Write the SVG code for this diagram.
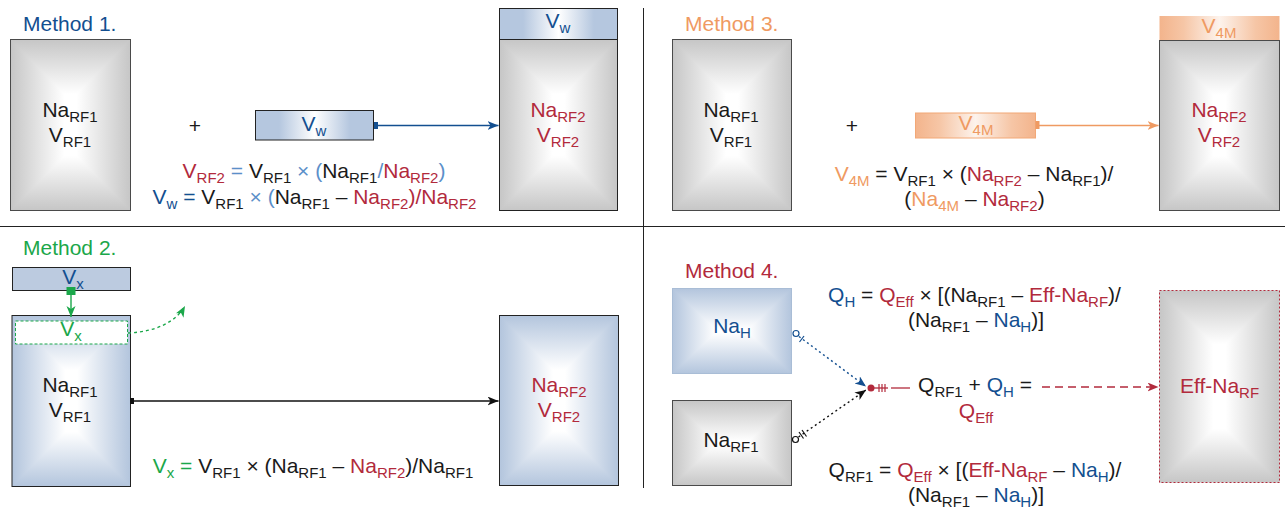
<svg xmlns="http://www.w3.org/2000/svg" width="1285" height="512" viewBox="0 0 1285 512">
<style>
.t{font-family:"Liberation Sans",Arial,Helvetica,sans-serif;font-size:21px;fill:#1a1a1a}
.s{font-size:15px;baseline-shift:-5px}
.b{fill:#134f90}.r{fill:#b22a3c}.g{fill:#1ba74a}.o{fill:#ef9a62}.lb{fill:#5b8fc9}.k{fill:#1a1a1a}
.dk{mix-blend-mode:darken}
.iso{isolation:isolate}
.bx{fill:none;stroke:#4a4a4a;stroke-width:1}
.bxk{fill:none;stroke:#222;stroke-width:1}
</style>
<defs>
<linearGradient id="gyH" x1="0" y1="0" x2="1" y2="0"><stop offset="0" stop-color="#c6c6c6"/><stop offset="0.45" stop-color="#fff"/><stop offset="0.55" stop-color="#fff"/><stop offset="1" stop-color="#c6c6c6"/></linearGradient>
<linearGradient id="gyV171" x1="0" y1="0" x2="0" y2="1"><stop offset="0" stop-color="#c6c6c6"/><stop offset="0.32" stop-color="#fff"/><stop offset="0.68" stop-color="#fff"/><stop offset="1" stop-color="#c6c6c6"/></linearGradient>
<linearGradient id="gyV85" x1="0" y1="0" x2="0" y2="1"><stop offset="0" stop-color="#c6c6c6"/><stop offset="0.48" stop-color="#fff"/><stop offset="0.52" stop-color="#fff"/><stop offset="1" stop-color="#c6c6c6"/></linearGradient>
<linearGradient id="gyH85" x1="0" y1="0" x2="1" y2="0"><stop offset="0" stop-color="#c6c6c6"/><stop offset="0.36" stop-color="#fff"/><stop offset="0.64" stop-color="#fff"/><stop offset="1" stop-color="#c6c6c6"/></linearGradient>
<linearGradient id="gyV192" x1="0" y1="0" x2="0" y2="1"><stop offset="0" stop-color="#c6c6c6"/><stop offset="0.28" stop-color="#fff"/><stop offset="0.72" stop-color="#fff"/><stop offset="1" stop-color="#c6c6c6"/></linearGradient>
<linearGradient id="blH" x1="0" y1="0" x2="1" y2="0"><stop offset="0" stop-color="#b3c5dd"/><stop offset="0.45" stop-color="#fff"/><stop offset="0.55" stop-color="#fff"/><stop offset="1" stop-color="#b3c5dd"/></linearGradient>
<linearGradient id="blV171" x1="0" y1="0" x2="0" y2="1"><stop offset="0" stop-color="#b3c5dd"/><stop offset="0.32" stop-color="#fff"/><stop offset="0.68" stop-color="#fff"/><stop offset="1" stop-color="#b3c5dd"/></linearGradient>
<linearGradient id="blH85" x1="0" y1="0" x2="1" y2="0"><stop offset="0" stop-color="#b3c5dd"/><stop offset="0.36" stop-color="#fff"/><stop offset="0.64" stop-color="#fff"/><stop offset="1" stop-color="#b3c5dd"/></linearGradient>
<linearGradient id="blV85" x1="0" y1="0" x2="0" y2="1"><stop offset="0" stop-color="#b3c5dd"/><stop offset="0.48" stop-color="#fff"/><stop offset="0.52" stop-color="#fff"/><stop offset="1" stop-color="#b3c5dd"/></linearGradient>
<linearGradient id="syB" x1="0" y1="0" x2="1" y2="0"><stop offset="0" stop-color="#b5c7df"/><stop offset="0.2" stop-color="#b5c7df"/><stop offset="0.5" stop-color="#fff"/><stop offset="0.8" stop-color="#b5c7df"/><stop offset="1" stop-color="#b5c7df"/></linearGradient>
<linearGradient id="syO" x1="0" y1="0" x2="1" y2="0"><stop offset="0" stop-color="#f3b48c"/><stop offset="0.2" stop-color="#f6c6a6"/><stop offset="0.5" stop-color="#fdf3ec"/><stop offset="0.8" stop-color="#f6c6a6"/><stop offset="1" stop-color="#f3b48c"/></linearGradient>
<marker id="aB" markerUnits="userSpaceOnUse" markerWidth="12" markerHeight="10" refX="11" refY="4.5" orient="auto"><path d="M0,0 L11,4.5 L0,9 L3,4.5 z" fill="#134f90"/></marker>
<marker id="aO" markerUnits="userSpaceOnUse" markerWidth="12" markerHeight="10" refX="11" refY="4.5" orient="auto"><path d="M0,0 L11,4.5 L0,9 L3,4.5 z" fill="#ef9a62"/></marker>
<marker id="aK" markerUnits="userSpaceOnUse" markerWidth="12" markerHeight="10" refX="11" refY="4.5" orient="auto"><path d="M0,0 L11,4.5 L0,9 L3,4.5 z" fill="#111"/></marker>
<marker id="aG" markerUnits="userSpaceOnUse" markerWidth="12" markerHeight="10" refX="11" refY="4.5" orient="auto"><path d="M0,0 L11,4.5 L0,9 L3,4.5 z" fill="#1ba74a"/></marker>
<marker id="aR" markerUnits="userSpaceOnUse" markerWidth="12" markerHeight="10" refX="11" refY="4.5" orient="auto"><path d="M0,0 L11,4.5 L0,9 L3,4.5 z" fill="#b22a3c"/></marker>
</defs>

<g id="dividers" stroke="#222" stroke-width="1">
<line x1="643.5" y1="8" x2="643.5" y2="488"/>
<line x1="0" y1="226.5" x2="1285" y2="226.5"/>
</g>

<!-- Method 1 -->
<text id="m1-title" class="t b" x="23" y="31">Method 1.</text>
<g id="m1-rf1">
<g class="iso"><rect x="10.5" y="39.5" width="120" height="171" fill="url(#gyH)"/><rect class="dk" x="10.5" y="39.5" width="120" height="171" fill="url(#gyV171)"/></g>
<rect class="bx" x="10.5" y="39.5" width="120" height="171"/>
<text class="t" x="70" y="117" text-anchor="middle">Na<tspan class="s">RF1</tspan></text>
<text class="t" x="70" y="142" text-anchor="middle">V<tspan class="s">RF1</tspan></text>
</g>
<text id="m1-plus" class="t" x="195" y="133" text-anchor="middle">+</text>
<g id="m1-syringe">
<rect x="255.5" y="110.5" width="118" height="29.5" fill="url(#syB)" stroke="#222"/>
<text class="t b" x="314" y="131" text-anchor="middle">V<tspan class="s">w</tspan></text>
</g>
<g id="m1-rf2">
<rect x="499.5" y="8.5" width="118" height="31" fill="url(#syB)" stroke="#222"/>
<text class="t b" x="558" y="28" text-anchor="middle">V<tspan class="s">w</tspan></text>
<g class="iso"><rect x="499.5" y="39.5" width="118" height="171" fill="url(#gyH)"/><rect class="dk" x="499.5" y="39.5" width="118" height="171" fill="url(#gyV171)"/></g>
<rect class="bxk" x="499.5" y="39.5" width="118" height="171"/>
<text class="t r" x="558" y="117" text-anchor="middle">Na<tspan class="s">RF2</tspan></text>
<text class="t r" x="558" y="142" text-anchor="middle">V<tspan class="s">RF2</tspan></text>
</g>
<g id="m1-eq">
<text class="t" x="314" y="178" text-anchor="middle"><tspan class="r">V</tspan><tspan class="s r">RF2</tspan><tspan class="lb"> = </tspan>V<tspan class="s">RF1</tspan><tspan class="lb"> × (</tspan>Na<tspan class="s">RF1</tspan><tspan class="lb">/</tspan><tspan class="r">Na</tspan><tspan class="s r">RF2</tspan><tspan class="lb">)</tspan></text>
<text class="t" x="314.5" y="204" text-anchor="middle"><tspan class="b">V</tspan><tspan class="s b">w</tspan><tspan class="b"> = </tspan>V<tspan class="s">RF1</tspan><tspan class="lb"> × (</tspan>Na<tspan class="s">RF1</tspan> – <tspan class="r">Na</tspan><tspan class="s r">RF2</tspan><tspan class="r">)/Na</tspan><tspan class="s r">RF2</tspan></text>
</g>

<!-- Method 3 -->
<text id="m3-title" class="t o" x="685" y="31">Method 3.</text>
<g id="m3-rf1">
<g class="iso"><rect x="672.5" y="39.5" width="119" height="171" fill="url(#gyH)"/><rect class="dk" x="672.5" y="39.5" width="119" height="171" fill="url(#gyV171)"/></g>
<rect class="bx" x="672.5" y="39.5" width="119" height="171"/>
<text class="t" x="731" y="117" text-anchor="middle">Na<tspan class="s">RF1</tspan></text>
<text class="t" x="731" y="142" text-anchor="middle">V<tspan class="s">RF1</tspan></text>
</g>
<text id="m3-plus" class="t" x="852" y="133" text-anchor="middle">+</text>
<g id="m3-syringe">
<rect x="915.5" y="113" width="120" height="25" fill="url(#syO)" stroke="#f2a877"/>
<text class="t o" x="976" y="130" text-anchor="middle">V<tspan class="s">4M</tspan></text>
</g>
<g id="m3-rf2">
<rect x="1159.5" y="16" width="120" height="24" fill="url(#syO)"/>
<text class="t o" x="1219" y="33" text-anchor="middle">V<tspan class="s">4M</tspan></text>
<g class="iso"><rect x="1159.5" y="40.5" width="120" height="170" fill="url(#gyH)"/><rect class="dk" x="1159.5" y="40.5" width="120" height="170" fill="url(#gyV171)"/></g>
<rect class="bx" x="1159.5" y="40.5" width="120" height="170"/>
<text class="t r" x="1219" y="117" text-anchor="middle">Na<tspan class="s">RF2</tspan></text>
<text class="t r" x="1219" y="142" text-anchor="middle">V<tspan class="s">RF2</tspan></text>
</g>
<g id="m3-eq">
<text class="t" x="974" y="181" text-anchor="middle"><tspan class="o">V</tspan><tspan class="s o">4M</tspan> = V<tspan class="s">RF1</tspan> × (<tspan class="r">Na</tspan><tspan class="s r">RF2</tspan> – Na<tspan class="s">RF1</tspan>)/</text>
<text class="t" x="974.5" y="206" text-anchor="middle">(<tspan class="o">Na</tspan><tspan class="s o">4M</tspan> – <tspan class="r">Na</tspan><tspan class="s r">RF2</tspan>)</text>
</g>

<!-- Method 2 -->
<text id="m2-title" class="t g" x="23" y="255">Method 2.</text>
<g id="m2-vx">
<rect x="12.5" y="267.5" width="118" height="23" fill="#bccbe0" stroke="#222"/>
<text class="t b" x="73" y="284" text-anchor="middle">V<tspan class="s">x</tspan></text>
</g>
<g id="m2-rf1">
<g class="iso"><rect x="12" y="315.5" width="118.5" height="171" fill="url(#blH)"/><rect class="dk" x="12" y="315.5" width="118.5" height="171" fill="url(#blV171)"/></g>
<rect class="bxk" x="12" y="315.5" width="118.5" height="171"/>
<rect x="15.5" y="321" width="112" height="23" fill="#fff" stroke="#1ba74a" stroke-dasharray="3,2"/>
<text class="t g" x="71" y="336" text-anchor="middle">V<tspan class="s">x</tspan></text>
<text class="t" x="70" y="392" text-anchor="middle">Na<tspan class="s">RF1</tspan></text>
<text class="t" x="70" y="417" text-anchor="middle">V<tspan class="s">RF1</tspan></text>
</g>
<g id="m2-rf2">
<g class="iso"><rect x="499.5" y="315.5" width="119" height="170" fill="url(#blH)"/><rect class="dk" x="499.5" y="315.5" width="119" height="170" fill="url(#blV171)"/></g>
<rect class="bxk" x="499.5" y="315.5" width="119" height="170"/>
<text class="t r" x="559" y="392" text-anchor="middle">Na<tspan class="s">RF2</tspan></text>
<text class="t r" x="559" y="417" text-anchor="middle">V<tspan class="s">RF2</tspan></text>
</g>
<text id="m2-eq" class="t" x="313" y="473" text-anchor="middle"><tspan class="g">V</tspan><tspan class="s g">x</tspan><tspan class="g"> = </tspan>V<tspan class="s">RF1</tspan> × (Na<tspan class="s">RF1</tspan> – <tspan class="r">Na</tspan><tspan class="s r">RF2</tspan>)/Na<tspan class="s">RF1</tspan></text>

<!-- Method 4 -->
<text id="m4-title" class="t r" x="685" y="278">Method 4.</text>
<g id="m4-nah">
<g class="iso"><rect x="672.5" y="288.5" width="119" height="85" fill="url(#blH85)"/><rect class="dk" x="672.5" y="288.5" width="119" height="85" fill="url(#blV85)"/></g>
<rect x="672.5" y="288.5" width="119" height="85" fill="none" stroke="#a9bdd6"/>
<text class="t b" x="732" y="333" text-anchor="middle">Na<tspan class="s">H</tspan></text>
</g>
<g id="m4-narf1">
<g class="iso"><rect x="672.5" y="400.5" width="119" height="85" fill="url(#gyH85)"/><rect class="dk" x="672.5" y="400.5" width="119" height="85" fill="url(#gyV85)"/></g>
<rect class="bx" x="672.5" y="400.5" width="119" height="85"/>
<text class="t" x="731" y="447" text-anchor="middle">Na<tspan class="s">RF1</tspan></text>
</g>
<g id="m4-sum">
<text class="t" x="975" y="392" text-anchor="middle">Q<tspan class="s">RF1</tspan> + <tspan class="b">Q</tspan><tspan class="s b">H</tspan> =</text>
<text class="t r" x="976" y="418" text-anchor="middle">Q<tspan class="s">Eff</tspan></text>
</g>
<g id="m4-eff">
<g class="iso"><rect x="1159.5" y="290.5" width="120" height="192" fill="url(#gyH)"/><rect class="dk" x="1159.5" y="290.5" width="120" height="192" fill="url(#gyV192)"/></g>
<rect x="1159.5" y="290.5" width="120" height="192" fill="none" stroke="#b22a3c" stroke-dasharray="2,2"/>
<text class="t r" x="1219.5" y="393" text-anchor="middle">Eff-Na<tspan class="s">RF</tspan></text>
</g>
<g id="m4-eqs">
<text class="t" x="974.5" y="302" text-anchor="middle"><tspan class="b">Q</tspan><tspan class="s b">H</tspan> = <tspan class="r">Q</tspan><tspan class="s r">Eff</tspan> × [(Na<tspan class="s">RF1</tspan> – <tspan class="r">Eff-Na</tspan><tspan class="s r">RF</tspan>)/</text>
<text class="t" x="976" y="327" text-anchor="middle">(Na<tspan class="s">RF1</tspan> – <tspan class="b">Na</tspan><tspan class="s b">H</tspan>)]</text>
<text class="t" x="975" y="477" text-anchor="middle">Q<tspan class="s">RF1</tspan> = <tspan class="r">Q</tspan><tspan class="s r">Eff</tspan> × [(<tspan class="r">Eff-Na</tspan><tspan class="s r">RF</tspan> – <tspan class="b">Na</tspan><tspan class="s b">H</tspan>)/</text>
<text class="t" x="976" y="502" text-anchor="middle">(Na<tspan class="s">RF1</tspan> – <tspan class="b">Na</tspan><tspan class="s b">H</tspan>)]</text>
</g>

<!-- Connectors -->
<g id="connectors" fill="none">
<rect x="374" y="122" width="4" height="7" fill="#134f90"/>
<line x1="378" y1="125.5" x2="498.5" y2="125.5" stroke="#134f90" stroke-width="1.4" marker-end="url(#aB)"/>
<rect x="1035.5" y="121" width="4" height="8" fill="#ef9a62"/>
<line x1="1039" y1="125.5" x2="1158.5" y2="125.5" stroke="#ef9a62" stroke-width="1.4" marker-end="url(#aO)"/>
<rect x="66.5" y="287" width="9" height="8" fill="#1ba74a"/>
<line x1="71" y1="295" x2="71" y2="317" stroke="#1ba74a" stroke-width="1.4" marker-end="url(#aG)"/>
<path d="M128,333 C155,332 176,322 185,306" stroke="#1ba74a" stroke-width="1.4" stroke-dasharray="3,3" marker-end="url(#aG)"/>
<rect x="130" y="398" width="4" height="6" fill="#111"/>
<line x1="134" y1="401" x2="498.5" y2="401" stroke="#111" stroke-width="1.4" marker-end="url(#aK)"/>
<line x1="799" y1="336.5" x2="866" y2="386.5" stroke="#134f90" stroke-width="1.4" stroke-dasharray="2,3" marker-end="url(#aB)"/>
<circle cx="796" cy="333.5" r="3" stroke="#134f90" stroke-width="1.2" fill="#fff"/>
<line x1="804" y1="336" x2="799.5" y2="342" stroke="#134f90" stroke-width="1.2"/>
<line x1="798.5" y1="437" x2="866" y2="390" stroke="#111" stroke-width="1.4" stroke-dasharray="2,3" marker-end="url(#aK)"/>
<circle cx="795.5" cy="439.5" r="3" stroke="#111" stroke-width="1.2" fill="#fff"/>
<line x1="799" y1="432" x2="803.5" y2="438.5" stroke="#111" stroke-width="1.2"/>
<line x1="802" y1="430" x2="806.5" y2="436.5" stroke="#111" stroke-width="1.2"/>
<circle cx="871" cy="388" r="3.5" fill="#b22a3c"/>
<line x1="871" y1="388" x2="888" y2="388" stroke="#b22a3c" stroke-width="1.3"/>
<line x1="879" y1="384" x2="879" y2="392" stroke="#b22a3c" stroke-width="1.2"/>
<line x1="882" y1="384" x2="882" y2="392" stroke="#b22a3c" stroke-width="1.2"/>
<line x1="885" y1="384" x2="885" y2="392" stroke="#b22a3c" stroke-width="1.2"/>
<line x1="891" y1="388" x2="910" y2="388" stroke="#b22a3c" stroke-width="1.3"/>
<line x1="1042" y1="387" x2="1158.5" y2="387" stroke="#b22a3c" stroke-width="1.4" stroke-dasharray="8,5" marker-end="url(#aR)"/>
</g>
</svg>
